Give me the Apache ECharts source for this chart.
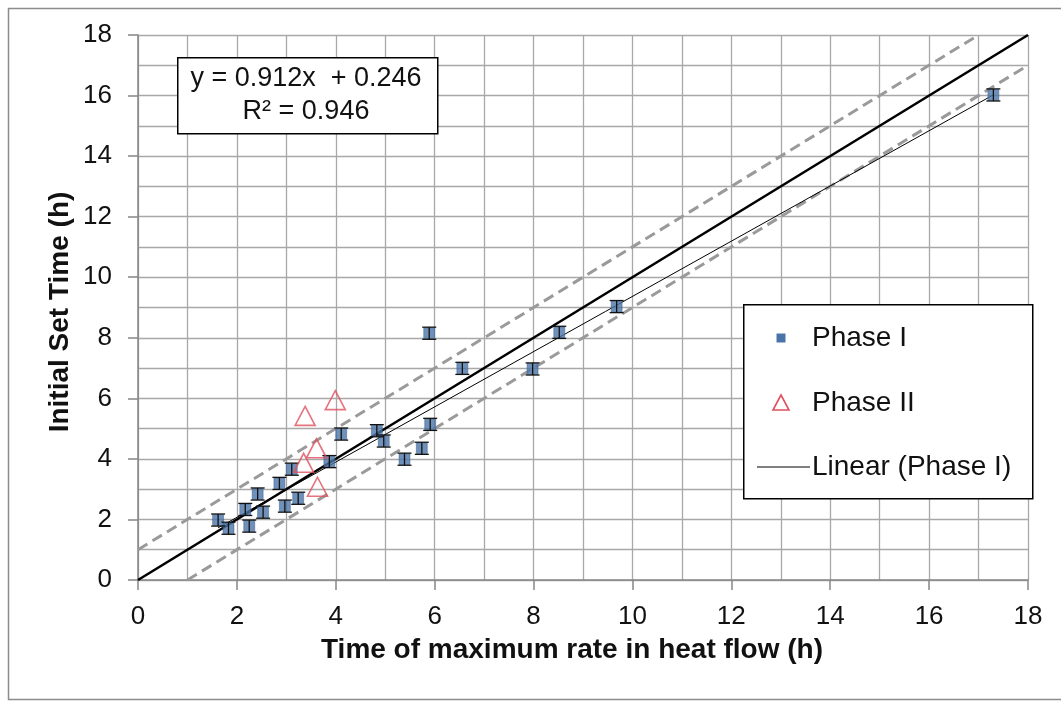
<!DOCTYPE html>
<html>
<head>
<meta charset="utf-8">
<script src="https://cdn.jsdelivr.net/npm/echarts@6/dist/echarts.min.js"></script>
<style>
html,body{margin:0;padding:0;background:#fff;}
#chart{width:1061px;height:701px;}
</style>
</head>
<body>
<div id="chart"></div>
<script>
// ---- data ----
const phaseIX = [1.62, 1.83, 2.17, 2.25, 2.42, 2.53, 2.86, 2.97, 3.11, 3.24, 3.87, 4.11, 4.83, 4.97, 5.39, 5.74, 5.91, 5.89, 6.56, 7.98, 8.52, 9.68, 17.30];
const phaseIY = [1.98, 1.71, 2.33, 1.78, 2.84, 2.24, 3.19, 2.44, 3.66, 2.70, 3.91, 4.82, 4.93, 4.59, 3.99, 4.35, 5.14, 8.15, 6.99, 6.97, 8.18, 9.03, 16.02];
const phaseIErr = [0.2, 0.2, 0.2, 0.2, 0.2, 0.2, 0.2, 0.2, 0.2, 0.2, 0.2, 0.2, 0.2, 0.2, 0.2, 0.2, 0.2, 0.2, 0.2, 0.2, 0.2, 0.2, 0.2];
const phaseIIX = [3.99, 3.38, 3.61, 3.35, 3.63];
const phaseIIY = [5.94, 5.42, 4.35, 3.87, 3.08];
const trendSlope = 0.912;
const trendIntercept = 0.246;
const trendR2 = 0.946;
const equalityLine = [[0, 0], [18, 18]];
const upperBound = [[0, 1], [17, 18]];
const lowerBound = [[1, 0], [18, 17]];
const xTicks = [0, 2, 4, 6, 8, 10, 12, 14, 16, 18];
const yTicks = [0, 2, 4, 6, 8, 10, 12, 14, 16, 18];
const xTitle = 'Time of maximum rate in heat flow (h)';
const yTitle = 'Initial Set Time (h)';
const legendNames = ['Phase I', 'Phase II', 'Linear (Phase I)'];

// ---- derived ----
const phaseIData = phaseIX.map((x, i) => [x, phaseIY[i]]);
const errData = phaseIX.map((x, i) => [x, phaseIY[i], phaseIErr[i]]);
const phaseIIData = phaseIIX.map((x, i) => [x, phaseIIY[i]]);
const xMinI = Math.min(...phaseIX), xMaxI = Math.max(...phaseIX);
const trendData = [[xMinI, trendSlope * xMinI + trendIntercept], [xMaxI, trendSlope * xMaxI + trendIntercept]];

const FONT = '"Liberation Sans", Arial, sans-serif';
const BLUE = '#4a74a8';
const RED = '#e0505e';

const chart = echarts.init(document.getElementById('chart'), null, {renderer: 'canvas'});

const axisCommon = {
  type: 'value', min: 0, max: 18, interval: 2,
  axisLine: {show: true, onZero: false, lineStyle: {color: '#868686', width: 1.5}},
  axisTick: {show: true, length: 10, lineStyle: {color: '#868686', width: 1.5}},
  minorTick: {show: false, splitNumber: 2},
  splitLine: {show: true, lineStyle: {color: '#a8a8a8', width: 1.3}},
  minorSplitLine: {show: true, lineStyle: {color: '#a8a8a8', width: 1.3}},
};

chart.setOption({
  animation: false,
  backgroundColor: '#fff',
  grid: {left: 138, right: 33, top: 35, bottom: 121, containLabel: false},
  xAxis: Object.assign({}, axisCommon, {
    axisLabel: {fontFamily: FONT, fontSize: 26, color: '#111', margin: 24,
      formatter: v => xTicks.includes(v) ? String(v) : ''}
  }),
  yAxis: Object.assign({}, axisCommon, {
    axisLabel: {fontFamily: FONT, fontSize: 26, color: '#111', margin: 26,
      formatter: v => yTicks.includes(v) ? String(v) : ''}
  }),
  series: [
    {type: 'line', data: upperBound, symbol: 'none', z: 2, silent: true,
      lineStyle: {color: '#9a9a9a', width: 3, type: [11, 6]}},
    {type: 'line', data: lowerBound, symbol: 'none', z: 2, silent: true,
      lineStyle: {color: '#9a9a9a', width: 3, type: [11, 6]}},
    {type: 'line', data: equalityLine, symbol: 'none', z: 3, silent: true,
      lineStyle: {color: '#000', width: 2.6}},
    {name: legendNames[2], type: 'line', data: trendData, symbol: 'none', z: 3, silent: true,
      lineStyle: {color: '#000', width: 1}},
    {name: legendNames[0], type: 'scatter', data: phaseIData, symbol: 'rect', symbolSize: 11, z: 5,
      itemStyle: {color: BLUE, borderColor: '#3b5f8c', borderWidth: 0.6}},
    {type: 'custom', data: errData, z: 6, silent: true,
      renderItem: function (params, api) {
        const x = api.value(0), y = api.value(1), e = api.value(2);
        const top = api.coord([x, y + e]);
        const bot = api.coord([x, y - e]);
        const hw = 7;
        const st = {stroke: '#111', lineWidth: 1.3};
        return {type: 'group', children: [
          {type: 'line', shape: {x1: top[0], y1: top[1], x2: bot[0], y2: bot[1]}, style: st},
          {type: 'line', shape: {x1: top[0] - hw, y1: top[1], x2: top[0] + hw, y2: top[1]}, style: st},
          {type: 'line', shape: {x1: bot[0] - hw, y1: bot[1], x2: bot[0] + hw, y2: bot[1]}, style: st}
        ]};
      }},
    {name: legendNames[1], type: 'scatter', data: phaseIIData, symbol: 'triangle', symbolSize: [20, 19], z: 7,
      itemStyle: {color: 'rgba(255,255,255,0)', borderColor: RED, borderWidth: 1.6}}
  ],
  graphic: [
    // outer chart border
    {type: 'rect', left: 6, top: 6, shape: {width: 1070, height: 691}, z: -10,
      style: {fill: 'none', stroke: '#8c8c8c', lineWidth: 1.5}},
    // equation box
    {type: 'rect', left: 177, top: 57, shape: {width: 260, height: 76}, z: 100,
      style: {fill: '#fff', stroke: '#000', lineWidth: 1.5}},
    {type: 'text', x: 306, y: 79, z: 101,
      style: {text: 'y = ' + trendSlope.toFixed(3) + 'x  + ' + trendIntercept.toFixed(3), font: '27px ' + FONT, fill: '#111', align: 'center', verticalAlign: 'middle'}},
    {type: 'text', x: 306, y: 112, z: 101,
      style: {text: 'R² = ' + trendR2.toFixed(3), font: '27px ' + FONT, fill: '#111', align: 'center', verticalAlign: 'middle'}},
    // legend box
    {type: 'rect', left: 743, top: 304, shape: {width: 289, height: 194}, z: 100,
      style: {fill: '#fff', stroke: '#000', lineWidth: 1.5}},
    {type: 'rect', shape: {x: 776.5, y: 333.5, width: 9, height: 9}, z: 101,
      style: {fill: BLUE}},
    {type: 'polygon', shape: {points: [[781, 395], [773, 410], [789, 410]]}, z: 101,
      style: {fill: 'none', stroke: RED, lineWidth: 1.6}},
    {type: 'line', shape: {x1: 757, y1: 467, x2: 810, y2: 467}, z: 101,
      style: {stroke: '#000', lineWidth: 1}},
    {type: 'text', x: 812, y: 338, z: 101,
      style: {text: legendNames[0], font: '28px ' + FONT, fill: '#111', verticalAlign: 'middle'}},
    {type: 'text', x: 812, y: 403, z: 101,
      style: {text: legendNames[1], font: '28px ' + FONT, fill: '#111', verticalAlign: 'middle'}},
    {type: 'text', x: 812, y: 467, z: 101,
      style: {text: legendNames[2], font: '28px ' + FONT, fill: '#111', verticalAlign: 'middle'}},
    // axis titles
    {type: 'text', x: 572, y: 650, z: 101,
      style: {text: xTitle, font: 'bold 28px ' + FONT, fill: '#111', align: 'center', verticalAlign: 'middle'}},
    {type: 'text', x: 60, y: 312, rotation: Math.PI / 2, z: 101,
      style: {text: yTitle, font: 'bold 28px ' + FONT, fill: '#111', align: 'center', verticalAlign: 'middle'}}
  ]
});
</script>
</body>
</html>
